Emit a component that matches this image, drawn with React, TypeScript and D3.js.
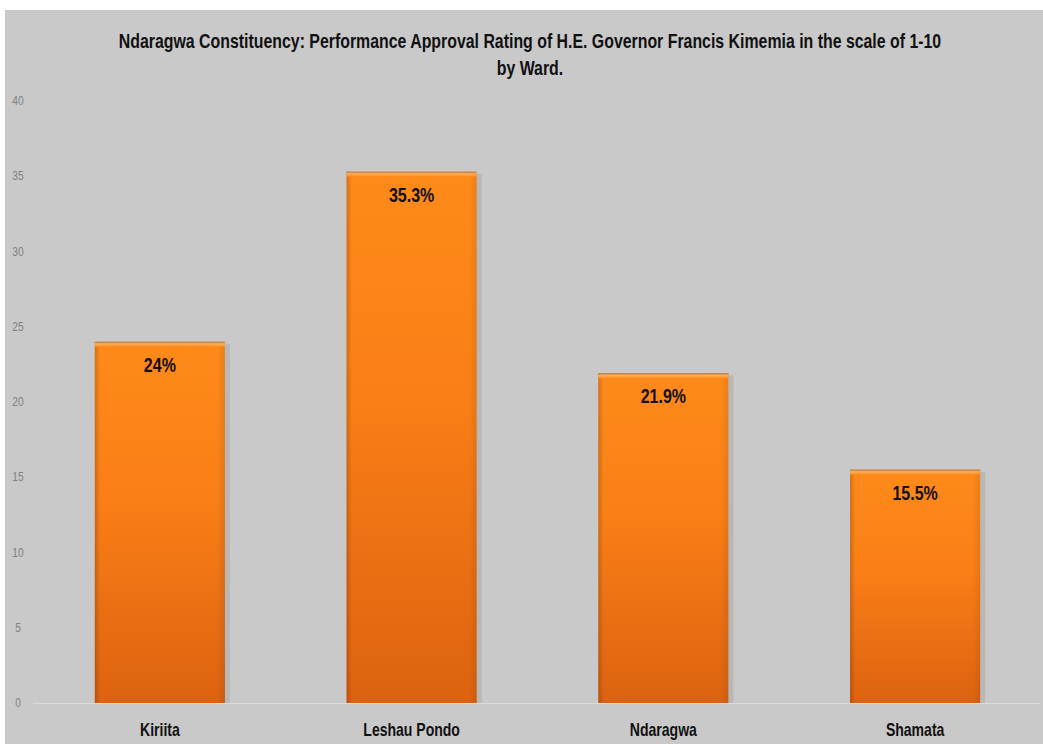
import React from "react";
import * as d3 from "d3";

const categories = ["Kiriita", "Leshau Pondo", "Ndaragwa", "Shamata"];
const values = [24, 35.3, 21.9, 15.5];
const valueLabels = ["24%", "35.3%", "21.9%", "15.5%"];
const yTicks = [0, 5, 10, 15, 20, 25, 30, 35, 40];
const titleLines = [
  "Ndaragwa Constituency: Performance Approval Rating of H.E. Governor Francis Kimemia in the scale of 1-10",
  "by Ward.",
];

const W = 1043;
const H = 744;
const FONT = "'Liberation Sans', Arial, sans-serif";

function CText({ x, y, sx, size, bold, fill, children }: any) {
  return (
    <g transform={`translate(${x},${y}) scale(${sx},1)`}>
      <text x={0} y={0} textAnchor="middle" fontFamily={FONT} fontWeight={bold ? "bold" : "normal"} fontSize={size} fill={fill}>
        {children}
      </text>
    </g>
  );
}

export default function App() {
  const x = d3.scaleBand<string>().domain(categories).range([34, 1041]).paddingInner(0.483).paddingOuter(0.2415);
  const y = d3.scaleLinear().domain([0, 40]).range([703, 101]);
  const bw = x.bandwidth();
  return (
    <svg width={W} height={H} style={{ position: "absolute", left: 0, top: 0 }}>
      <defs>
        <linearGradient id="barGrad" x1="0" y1="0" x2="0" y2="1">
          <stop offset="0%" stopColor="#ff8a1a" />
          <stop offset="45%" stopColor="#f97e16" />
          <stop offset="100%" stopColor="#dd6210" />
        </linearGradient>
        <linearGradient id="barSide" x1="0" y1="0" x2="1" y2="0">
          <stop offset="0%" stopColor="#000" stopOpacity="0.18" />
          <stop offset="4%" stopColor="#000" stopOpacity="0" />
          <stop offset="94%" stopColor="#000" stopOpacity="0" />
          <stop offset="100%" stopColor="#000" stopOpacity="0.08" />
        </linearGradient>
        <linearGradient id="topGrad" x1="0" y1="0" x2="0" y2="1">
          <stop offset="0%" stopColor="#b07030" />
          <stop offset="40%" stopColor="#ffb060" />
          <stop offset="100%" stopColor="#ff8a1a" />
        </linearGradient>
      </defs>
      <rect x={5} y={10} width={W - 5} height={H - 10} fill="#c9c9c9" />
      {titleLines.map((t, i) => (
        <CText key={i} x={530} y={48 + i * 27} sx={0.815} size={19.5} bold fill="#111">
          {t}
        </CText>
      ))}
      {yTicks.map((t) => (
        <CText key={t} x={18} y={y(t) + 4} sx={0.85} size={12} fill="#808080">
          {t}
        </CText>
      ))}
      <line x1={33} x2={1040} y1={y(0) + 0.5} y2={y(0) + 0.5} stroke="#dcdcdc" strokeWidth={1} />
      {categories.map((c, i) => {
        const bx = x(c)!;
        const by = y(values[i]);
        const bh = y(0) - by;
        return (
          <g key={c}>
            <rect x={bx + bw} y={by + 2} width={5} height={bh - 2} fill="#b8b8b8" />
            <rect x={bx} y={by} width={bw} height={bh} fill="url(#barGrad)" />
            <rect x={bx} y={by} width={bw} height={bh} fill="url(#barSide)" />
            <rect x={bx} y={by} width={bw} height={5} fill="url(#topGrad)" />
            <CText x={bx + bw / 2} y={by + 30} sx={0.8} size={20} bold fill="#111">
              {valueLabels[i]}
            </CText>
            <CText x={bx + bw / 2} y={736} sx={0.78} size={18} bold fill="#111">
              {c}
            </CText>
          </g>
        );
      })}
    </svg>
  );
}
